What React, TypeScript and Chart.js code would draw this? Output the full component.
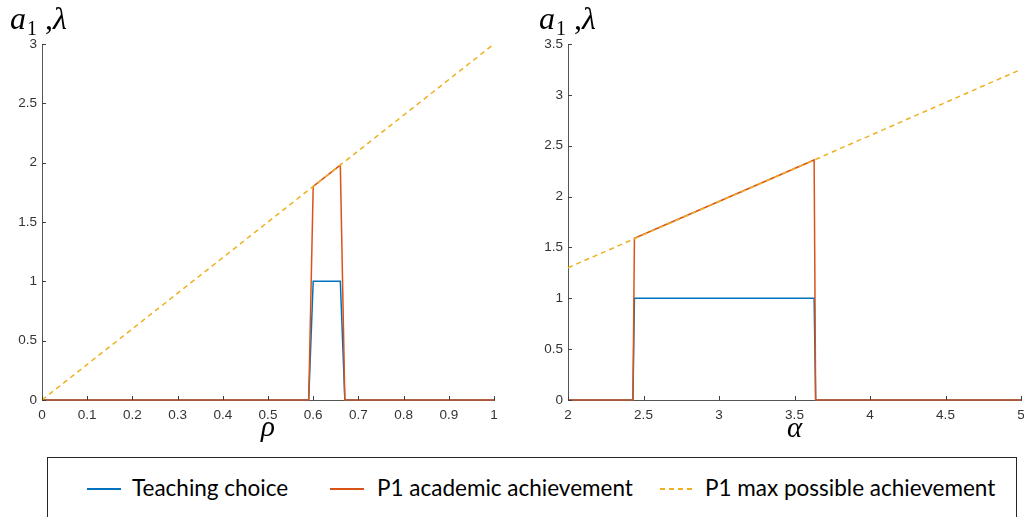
import React, { useEffect, useRef } from 'react';
import { Chart, registerables } from 'chart.js';
Chart.register(...registerables);

// ---- data ----
const leftX = [0, 0.59, 0.6, 0.66, 0.67, 1];
const leftTeaching = [0, 0, 1, 1, 0, 0];
const leftAcademic = [0, 0, 1.8, 1.98, 0, 0];
const leftMaxX = [0, 1];
const leftMax = [0, 3];

const rightX = [2, 2.43, 2.44, 3.63, 3.64, 5];
const rightTeaching = [0, 0, 1, 1, 0, 0];
const rightAcademic = [0, 0, 1.59, 2.36, 0, 0];
const rightMaxX = [2, 5];
const rightMax = [1.3, 3.25];

const seriesNames = ['Teaching choice', 'P1 academic achievement', 'P1 max possible achievement'];
const seriesColors = ['#0072BD', '#D95319', '#EDB120'];

const pts = (xs: number[], ys: number[]) => xs.map((x, i) => ({ x, y: ys[i] }));
const fmt = (v: any) => String(Math.round(Number(v) * 100) / 100);

const inwardTicks = {
  id: 'inwardTicks',
  afterDraw(chart: any) {
    const { ctx, chartArea, scales } = chart;
    ctx.save();
    ctx.strokeStyle = '#404040';
    ctx.lineWidth = 1;
    scales.x.ticks.forEach((t: any) => {
      const px = Math.round(scales.x.getPixelForValue(t.value)) + 0.5;
      ctx.beginPath();
      ctx.moveTo(px, chartArea.bottom);
      ctx.lineTo(px, chartArea.bottom - 4);
      ctx.stroke();
    });
    scales.y.ticks.forEach((t: any) => {
      const py = Math.round(scales.y.getPixelForValue(t.value)) + 0.5;
      ctx.beginPath();
      ctx.moveTo(chartArea.left, py);
      ctx.lineTo(chartArea.left + 4, py);
      ctx.stroke();
    });
    ctx.restore();
  },
};

function makeConfig(
  xs: number[], teach: number[], acad: number[], maxX: number[], maxY: number[],
  xMin: number, xMax: number, xStep: number, yMax: number, yAxisWidth: number, xTitle: string, titlePad: number
): any {
  const tickFont = { family: 'Liberation Sans', size: 13.5 };
  return {
    type: 'line',
    data: {
      datasets: [
        {
          label: seriesNames[2], data: pts(maxX, maxY), borderColor: seriesColors[2],
          borderWidth: 1.5, borderDash: [5, 4], pointRadius: 0, tension: 0, clip: false,
        },
        {
          label: seriesNames[1], data: pts(xs, acad), borderColor: seriesColors[1],
          borderWidth: 1.5, pointRadius: 0, tension: 0, clip: false,
        },
        {
          label: seriesNames[0], data: pts(xs, teach), borderColor: seriesColors[0],
          borderWidth: 1.5, pointRadius: 0, tension: 0, clip: false,
        },
      ],
    },
    options: {
      responsive: false,
      animation: false,
      devicePixelRatio: 1,
      layout: { padding: { left: 0, top: 44, right: 30, bottom: 0 } },
      plugins: { legend: { display: false }, tooltip: { enabled: false } },
      scales: {
        x: {
          type: 'linear', min: xMin, max: xMax,
          ticks: { stepSize: xStep, color: '#333333', font: tickFont, padding: 7, maxRotation: 0, autoSkip: false, callback: fmt },
          grid: { display: true, drawOnChartArea: false, drawTicks: false },
          border: { display: true, color: '#555555', width: 1 },
          title: {
            display: true, text: xTitle, color: '#000',
            font: { family: 'Liberation Serif', style: 'italic', size: 29 },
            padding: { top: 0, bottom: titlePad },
          },
          afterFit: (s: any) => { s.height = 52; },
        },
        y: {
          type: 'linear', min: 0, max: yMax,
          ticks: { stepSize: 0.5, color: '#333333', font: tickFont, padding: 5, callback: fmt },
          grid: { display: true, drawOnChartArea: false, drawTicks: false },
          border: { display: true, color: '#555555', width: 1 },
          afterFit: (s: any) => { s.width = yAxisWidth; },
        },
      },
    },
    plugins: [inwardTicks],
  };
}

function ChartCanvas({ config, left, width }: { config: any; left: number; width: number }) {
  const ref = useRef<HTMLCanvasElement | null>(null);
  useEffect(() => {
    if (!ref.current) return;
    const chart = new Chart(ref.current, config);
    return () => chart.destroy();
  }, []);
  return (
    <canvas
      ref={ref}
      width={width}
      height={452}
      style={{ position: 'absolute', left, top: 0, width, height: 452 }}
    />
  );
}

function YTitle({ left }: { left: number }) {
  return (
    <div
      style={{
        position: 'absolute', left, top: 2, fontFamily: 'Liberation Serif', fontSize: 32,
        lineHeight: '32px', color: '#000', whiteSpace: 'nowrap',
      }}
    >
      <i>a</i>
      <span style={{ fontSize: 20, position: 'relative', top: 6, marginLeft: 1 }}>1</span>
      <span> ,</span>
      <i>λ</i>
    </div>
  );
}

function LegendItem({ x1, x2, textLeft, color, dashed, text }: any) {
  return (
    <>
      <svg style={{ position: 'absolute', left: x1, top: 484, overflow: 'visible' }} width={x2 - x1} height={10}>
        <line x1={0} y1={5} x2={x2 - x1} y2={5} stroke={color} strokeWidth={2}
          strokeDasharray={dashed ? '5 4' : undefined} />
      </svg>
      <div
        style={{
          position: 'absolute', left: textLeft, top: 477, fontFamily: 'Lato', fontSize: 22.5,
          lineHeight: '22.5px', color: '#000', whiteSpace: 'nowrap',
        }}
      >
        {text}
      </div>
    </>
  );
}

export default function App() {
  const leftCfg = makeConfig(leftX, leftTeaching, leftAcademic, leftMaxX, leftMax, 0, 1, 0.1, 3, 42, 'ρ', 6);
  const rightCfg = makeConfig(rightX, rightTeaching, rightAcademic, rightMaxX, rightMax, 2, 5, 0.5, 3.5, 48, 'α', 5);
  return (
    <div
      style={{
        position: 'fixed', left: 0, top: 0, width: 1024, height: 517, overflow: 'hidden', background: '#fff',
      }}
    >
      <ChartCanvas config={leftCfg} left={0} width={524} />
      <ChartCanvas config={rightCfg} left={520} width={531} />
      <YTitle left={10} />
      <YTitle left={539} />
      <div
        style={{
          position: 'absolute', left: 47, top: 457, width: 970, height: 100,
          border: '1px solid #262626', boxSizing: 'border-box',
        }}
      />
      <LegendItem x1={87} x2={121} textLeft={132} color={seriesColors[0]} dashed={false} text={seriesNames[0]} />
      <LegendItem x1={330} x2={364} textLeft={377} color={seriesColors[1]} dashed={false} text={seriesNames[1]} />
      <LegendItem x1={660} x2={694} textLeft={705} color={seriesColors[2]} dashed={true} text={seriesNames[2]} />
    </div>
  );
}
